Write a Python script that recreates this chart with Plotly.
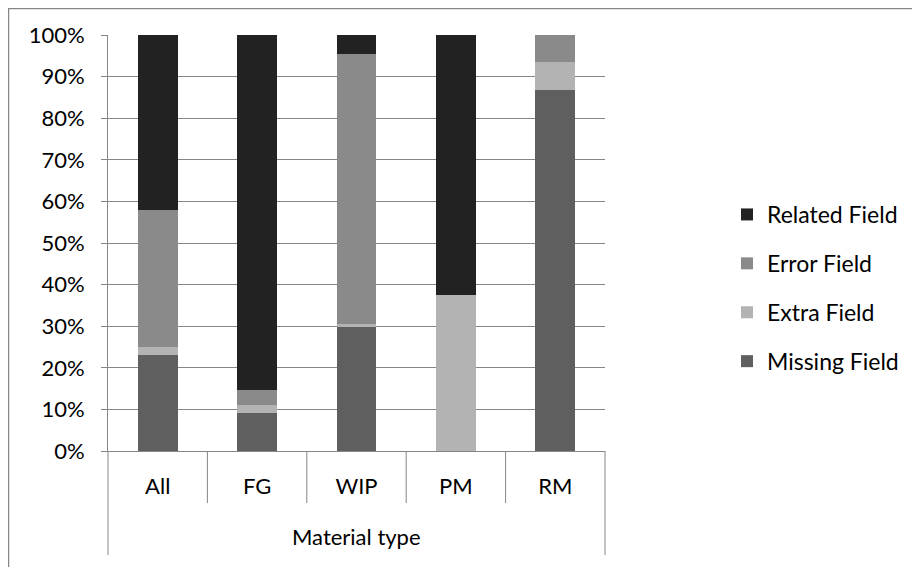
import plotly.graph_objects as go

categories = ["All", "FG", "WIP", "PM", "RM"]
group_label = "Material type"
missing = [23.0, 9.1, 29.7, 0.0, 86.8]
extra = [1.9, 1.9, 0.8, 37.5, 6.6]
error = [33.1, 3.7, 64.9, 0.0, 6.6]
related = [42.0, 85.3, 4.6, 62.5, 0.0]
y_ticks = [0, 10, 20, 30, 40, 50, 60, 70, 80, 90, 100]
y_tick_labels = [f"{v}%" for v in y_ticks]

series = [
    ("Missing Field", missing, "#5f5f5f", 4),
    ("Extra Field", extra, "#b3b3b3", 3),
    ("Error Field", error, "#8a8a8a", 2),
    ("Related Field", related, "#222222", 1),
]

FONT = "Lato"
AX = "#868686"
fig = go.Figure()
for name, vals, color, rank in series:
    fig.add_trace(go.Bar(
        x=categories, y=vals, name=name, legendgroup=name, legendrank=rank,
        marker=dict(color=color, line=dict(width=0)),
    ))

W, H = 920, 567
L, R, T, B = 100, 323, 27, 124
pw, ph = W - L - R, H - T - B

shapes = []
# category boundary lines below the axis
for i in range(1, len(categories)):
    shapes.append(dict(type="line", xref="x", yref="paper",
                       x0=i - 0.5, x1=i - 0.5, y0=0, y1=-52 / ph,
                       line=dict(color=AX, width=1)))
# outer group lines
for xp in (0, 1):
    shapes.append(dict(type="line", xref="paper", yref="paper",
                       x0=xp, x1=xp, y0=0, y1=-104 / ph,
                       line=dict(color=AX, width=1)))
# chart border
shapes.append(dict(type="rect", xref="paper", yref="paper",
                   x0=(0.5 - L) / pw, x1=(W + 20 - L) / pw,
                   y0=-1.0, y1=1 + (T - 0.5) / ph,
                   line=dict(color=AX, width=1.5), fillcolor="rgba(0,0,0,0)",
                   layer="below"))

fig.update_layout(
    width=W, height=H,
    margin=dict(l=L, r=R, t=T, b=B, pad=0),
    barmode="stack", bargap=0.6,
    plot_bgcolor="white", paper_bgcolor="white",
    font=dict(family=FONT, size=22, color="#000000"),
    showlegend=True,
    legend=dict(
        x=(719 - L) / pw, y=(443 - 280) / ph, xanchor="left", yanchor="middle",
        traceorder="grouped", tracegroupgap=16,
        font=dict(size=23), itemwidth=30,
    ),
    xaxis=dict(
        type="category", showline=True, linecolor=AX, linewidth=1,
        ticks="", showgrid=False, tickfont=dict(size=22),
        ticklabelstandoff=16,
    ),
    yaxis=dict(
        range=[0, 100], tickvals=y_ticks, ticktext=y_tick_labels,
        showgrid=True, gridcolor=AX, gridwidth=1,
        showline=True, linecolor=AX, linewidth=1,
        ticks="outside", ticklen=6, tickcolor=AX,
        tickfont=dict(size=22), zeroline=False, ticklabelstandoff=12,
    ),
    annotations=[dict(
        text=group_label, xref="paper", yref="paper", x=0.5, y=-85 / ph,
        xanchor="center", yanchor="middle", showarrow=False,
        font=dict(size=22),
    )],
    shapes=shapes,
)

fig.write_html("out.html")
